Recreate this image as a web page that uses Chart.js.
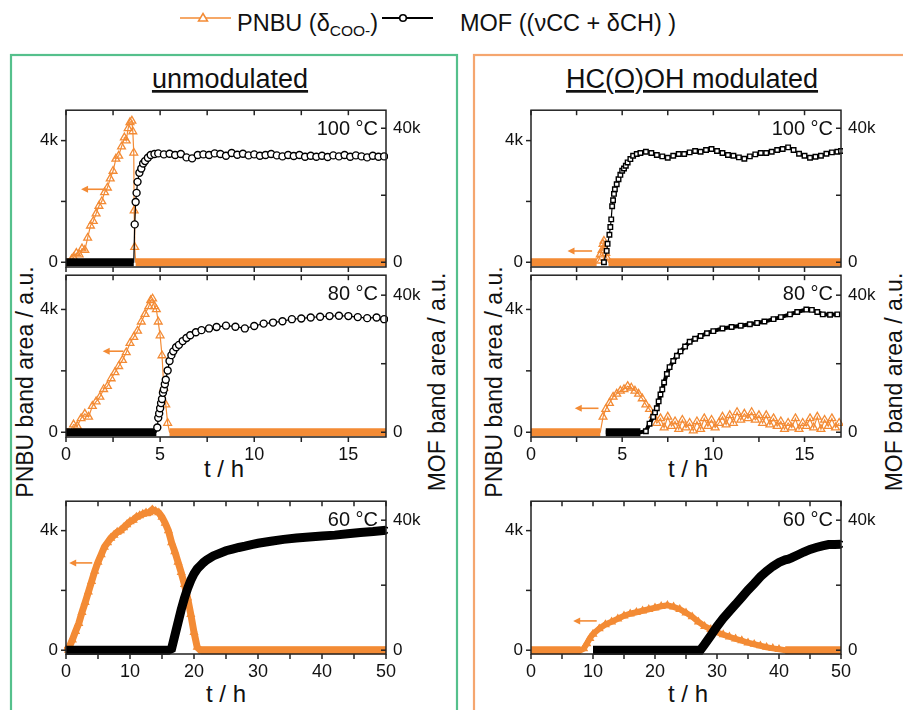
<!DOCTYPE html>
<html><head><meta charset="utf-8">
<script src="https://cdn.jsdelivr.net/npm/chart.js@4/dist/chart.umd.min.js"></script>
<style>
html,body{margin:0;padding:0;background:#fff;width:903px;height:710px;overflow:hidden;}
#page{position:relative;width:903px;height:710px;background:#fff;}
#deco{position:absolute;left:0;top:0;}
canvas{position:absolute;}
</style></head><body>
<div id="page">
<svg id="deco" width="903" height="710" xmlns="http://www.w3.org/2000/svg" font-family="Liberation Sans, Arial, sans-serif" fill="#111">
 <rect x="11" y="55" width="446" height="700" fill="none" stroke="#55c08c" stroke-width="2.2"/>
 <rect x="474" y="55" width="440" height="700" fill="none" stroke="#f5a66f" stroke-width="2.2"/>
 <line x1="180" y1="18" x2="231" y2="18" stroke="#f38b35" stroke-width="1.6"/>
 <polygon points="203,13.5 207.5,21 198.5,21" fill="#fff" stroke="#f38b35" stroke-width="1.5"/>
 <text x="237" y="31" font-size="23.5">PNBU (δ<tspan font-size="15.5" dy="5">COO-</tspan><tspan dy="-5">)</tspan></text>
 <line x1="382" y1="18" x2="433" y2="18" stroke="#000" stroke-width="1.8"/>
 <circle cx="403" cy="18" r="3.3" fill="#fff" stroke="#000" stroke-width="1.6"/>
 <text x="460" y="31" font-size="23.5">MOF ((νCC + δCH) )</text>
 <text x="230" y="88" font-size="27" text-anchor="middle" text-decoration="underline">unmodulated</text>
 <text x="692" y="88" font-size="27" text-anchor="middle" text-decoration="underline">HC(O)OH modulated</text>
 <text transform="translate(25,382) rotate(-90)" text-anchor="middle" dominant-baseline="central" font-size="23">PNBU band area / a.u.</text>
 <text transform="translate(437,382) rotate(-90)" text-anchor="middle" dominant-baseline="central" font-size="23">MOF band area / a.u.</text>
 <text transform="translate(494,382) rotate(-90)" text-anchor="middle" dominant-baseline="central" font-size="23">PNBU band area / a.u.</text>
 <text transform="translate(894,382) rotate(-90)" text-anchor="middle" dominant-baseline="central" font-size="23">MOF band area / a.u.</text>
 <text x="224" y="477" text-anchor="middle" font-size="24">t / h</text>
 <text x="226" y="702" text-anchor="middle" font-size="24">t / h</text>
 <text x="688" y="477" text-anchor="middle" font-size="24">t / h</text>
 <text x="688" y="702" text-anchor="middle" font-size="24">t / h</text>
</svg>
</div>
<script>
// ---------- tick values / labels ----------
const pnbuTicks = [0, 2000, 4000];
const pnbuTickLabels = ['0', '', '4k'];
const mofTicks = [0, 20000, 40000];
const mofTickLabels = ['0', '', '40k'];
const shortTicks = [0, 2.5, 5, 7.5, 10, 12.5, 15];
const shortTickLabels = ['0', '', '5', '', '10', '', '15'];
const longTicks = [0, 5, 10, 15, 20, 25, 30, 35, 40, 45, 50];
const longTickLabels = ['0', '', '10', '', '20', '', '30', '', '40', '', '50'];

// ---------- unmodulated, 100 °C ----------
const u100PnbuT = [0,0.1,0.2,0.3,0.4,0.55,0.7,0.85,1.0,1.15,1.3,1.45,1.6,1.75,1.9,2.05,2.2,2.35,2.5,2.65,2.8,2.95,3.1,3.2,3.3,3.4,3.5,3.55,3.6,3.62,3.65,3.7,4,5,6,7,8,9,10,11,12,13,14,15,16,17];
const u100PnbuV = [0,0,0,100,160,300,250,450,400,800,1200,1350,1600,1850,2000,2300,2450,2750,3000,3400,3500,3800,4100,4000,4400,4600,4650,4300,3600,1700,500,0,0,0,0,0,0,0,0,0,0,0,0,0,0,0];
const u100MofT = [0,1,2,3,3.6,3.65,3.7,3.75,3.8,3.9,4.0,4.1,4.2,4.35,4.5,4.7,4.9,5.2,5.5,5.8,6.1,6.4,6.7,7.0,7.3,7.6,7.9,8.2,8.5,8.8,9.1,9.4,9.7,10.0,10.3,10.6,10.9,11.2,11.5,11.8,12.1,12.4,12.7,13.0,13.3,13.6,13.9,14.2,14.5,14.8,15.1,15.4,15.7,16.0,16.3,16.6,16.9];
const u100MofV = [0,0,0,0,0,11300,18000,20700,24000,26700,28000,29500,30200,31200,32000,32300,32500,32200,32400,32000,32300,31300,31000,32000,32200,32000,32500,32300,31800,32600,32100,32400,31900,32200,31800,32000,32300,31900,31600,32000,31700,32000,31500,31800,31500,31800,31400,31900,31600,32000,31500,31900,31600,31300,31800,31500,31600];
const u100Arrow = [0.8, 2.0, 2400];

// ---------- unmodulated, 80 °C ----------
const u80PnbuT = [0,0.2,0.4,0.6,0.8,1.0,1.2,1.4,1.6,1.8,2.0,2.2,2.4,2.6,2.8,3.0,3.2,3.4,3.6,3.8,4.0,4.2,4.4,4.5,4.6,4.7,4.8,4.9,5.0,5.1,5.2,5.3,5.4,5.5,6,7,8,9,10,11,12,13,14,15,16,17];
const u80PnbuV = [0,0,250,200,450,600,500,850,1000,1150,1400,1500,1750,1950,2150,2350,2600,2900,3100,3300,3600,3850,4100,4300,4350,4100,4000,3600,3150,2500,1450,900,300,0,0,0,0,0,0,0,0,0,0,0,0,0];
const u80MofT = [0,1,2,3,4,4.8,4.85,4.9,4.95,5.0,5.05,5.1,5.15,5.2,5.25,5.3,5.4,5.5,5.6,5.7,5.85,6.0,6.2,6.4,6.6,6.9,7.2,7.6,8.0,8.5,9.0,9.5,10.0,10.5,11.0,11.5,12.0,12.5,13.0,13.5,14.0,14.5,15.0,15.5,16.0,16.5,16.9];
const u80MofV = [0,0,0,0,0,0,1400,4200,5500,7000,8500,9700,11500,12500,14000,15300,18000,20800,22500,23600,24800,25500,26600,27500,28300,29200,29800,30300,30700,31100,30800,30300,31000,31700,32000,32400,33000,33200,33500,33700,33900,34000,33900,33600,33300,33500,33000];
const u80Arrow = [1.95, 3.05, 2640];

// ---------- unmodulated, 60 °C ----------
const u60PnbuT = [0,0.5,1,1.5,2,2.5,3,3.5,4,4.5,5,5.5,6,6.5,7,7.5,8,8.5,9,9.5,10,10.5,11,11.5,12,12.5,13,13.5,14,14.5,15,15.5,16,16.5,17,17.5,18,18.5,19,19.5,20,20.5,21,23,25,27,29,31,33,35,37,39,41,43,45,47,49,50];
const u60PnbuV = [0,100,350,630,900,1270,1600,1950,2300,2650,2950,3200,3450,3600,3750,3850,3950,4000,4100,4200,4300,4350,4450,4500,4550,4600,4600,4700,4650,4600,4450,4250,4000,3600,3300,2950,2600,2200,1750,1200,600,100,0,0,0,0,0,0,0,0,0,0,0,0,0,0,0,0];
const u60MofT = [0,2,4,6,8,10,12,14,16,16.5,17,17.5,18,18.5,19,19.5,20,20.5,21,21.5,22,23,24,25,26,27,28,29,30,32,34,36,38,40,42,44,46,48,50];
const u60MofV = [0,0,0,0,0,0,0,0,0,500,4500,8500,12500,16000,19000,21500,23500,25000,26000,27000,27800,29000,29800,30600,31100,31600,32000,32500,32900,33500,34100,34500,34800,35100,35400,35800,36200,36500,36900];
const u60Arrow = [0.5, 4.1, 2920];

// ---------- HC(O)OH modulated, 100 °C ----------
const h100PnbuT = [0,1,2,3,3.6,3.7,3.8,3.9,3.95,4.0,4.05,4.1,4.15,4.25,5,6,7,8,9,10,11,12,13,14,15,16,17];
const h100PnbuV = [0,0,0,0,0,50,250,400,600,700,470,300,150,0,0,0,0,0,0,0,0,0,0,0,0,0,0];
const h100MofT = [4.0,4.15,4.2,4.3,4.35,4.4,4.45,4.5,4.55,4.6,4.7,4.8,4.9,5.0,5.1,5.2,5.3,5.45,5.6,5.8,6.0,6.3,6.6,6.9,7.2,7.5,7.8,8.1,8.4,8.7,9.0,9.3,9.6,9.9,10.2,10.5,10.8,11.1,11.4,11.7,12.0,12.3,12.6,12.9,13.2,13.5,13.8,14.1,14.4,14.7,15.0,15.3,15.6,15.9,16.2,16.5,16.8,17.0];
const h100MofV = [0,3400,5500,8200,10500,12800,16700,18500,20400,21800,23300,24800,26100,27300,28000,28800,29800,30800,31800,32300,32600,33000,32600,32000,31600,31200,31800,32300,32300,32800,33200,33000,33500,33800,33200,32600,32000,31800,31300,30900,31600,32200,32600,32600,33000,33500,33800,34300,33500,32400,31800,31200,31500,31800,32400,32800,33000,33200];
const h100Arrow = [2.0, 3.35, 370];

// ---------- HC(O)OH modulated, 80 °C ----------
const h80PnbuT = [0,1,2,3,3.8,3.95,4.1,4.3,4.5,4.7,4.9,5.1,5.3,5.5,5.7,5.9,6.1,6.3,6.5,6.7,
  6.9,7.1,7.3,7.5,7.7,7.9,8.1,8.3,8.5,8.7,8.9,9.1,9.3,9.5,9.7,9.9,10.1,10.3,10.5,10.7,
  10.9,11.1,11.3,11.5,11.7,11.9,12.1,12.3,12.5,12.7,12.9,13.1,13.3,13.5,13.7,13.9,14.1,14.3,14.5,14.7,
  14.9,15.1,15.3,15.5,15.7,15.9,16.1,16.3,16.5,16.7,16.9];
const h80PnbuV = [0,0,0,0,0,500,750,950,1150,1250,1350,1400,1500,1450,1350,1250,1100,900,750,550,
  300,450,150,500,200,350,100,400,150,300,50,350,100,450,200,400,150,300,500,250,
  550,300,650,400,600,450,650,400,550,300,550,250,450,200,350,100,300,150,450,100,
  300,200,450,150,500,100,400,200,450,150,300];
const h80MofT = [4.1,4.5,5.0,5.5,6.0,6.3,6.5,6.7,6.8,6.9,7.0,7.1,7.2,7.3,7.45,7.6,7.8,8.0,8.2,8.45,8.7,9.0,9.3,9.65,10.0,10.5,11.0,11.5,12.0,12.4,12.8,13.3,13.7,14.2,14.6,15.1,15.4,15.7,16.0,16.4,16.8];
const h80MofV = [0,0,0,0,0,300,2500,4500,5800,7000,9000,11000,12500,14500,17000,19000,20800,22300,23600,25000,26400,27300,28100,28900,29500,30300,30700,31100,31500,31900,32300,33000,33600,34400,35100,35800,35700,35100,34400,34300,34400];
const h80Arrow = [2.4, 3.7, 780];

// ---------- HC(O)OH modulated, 60 °C ----------
const h60PnbuT = [0,2,4,6,8,8.5,9,9.5,10,11,12,13,14,15,16,17,18,19,20,21,22,23,24,25,26,27,28,29,30,31,32,33,34,35,36,37,38,39,40,41,42,44,46,48,50];
const h60PnbuV = [0,0,0,0,0,50,220,400,540,720,860,950,1050,1150,1220,1270,1320,1370,1420,1470,1500,1450,1370,1250,1120,950,800,700,600,520,450,380,320,250,200,150,100,60,30,0,0,0,0,0,0];
const h60MofT = [10,12,14,16,18,20,22,24,26,27.3,28,29,30,31,32,33,34,35,36,37,38,39,40,41,41.5,42,43,44,45,46,47,48,49,50];
const h60MofV = [0,0,0,0,0,0,0,0,0,0,1800,4500,7300,9800,12000,14100,16300,18500,20500,22600,24300,25800,27000,27800,28000,28400,29300,30200,31000,31600,32100,32500,32500,32600];
const h60Arrow = [6.8, 10.6, 980];

// ---------- layout / style ----------
const ORANGE = '#f38b35';
const FONT = '"Liberation Sans", Arial, Helvetica, sans-serif';
const COLS = [{left:66,right:386},{left:531,right:841}];
const ROWS = [
  {top:102,bottom:267,yMin:-156,yMax:5000,y2Min:-1420,y2Max:45390},
  {top:267,bottom:437,yMin:-155,yMax:5116,y2Min:-1390,y2Max:45830},
  {top:493,bottom:654,yMin:-127,yMax:4984,y2Min:-1170,y2Max:45840}
];
const PANELS = [
  {col:0,row:0,temp:'100 °C',xMax:17,xT:shortTicks,xL:null,pT:u100PnbuT,pV:u100PnbuV,mT:u100MofT,mV:u100MofV,arrow:u100Arrow,pw:1.2,mw:1.2,mr:3.5,ms:'circle',pr:4.5,mfill:'#fff'},
  {col:0,row:1,temp:'80 °C',xMax:17,xT:shortTicks,xL:shortTickLabels,pT:u80PnbuT,pV:u80PnbuV,mT:u80MofT,mV:u80MofV,arrow:u80Arrow,pw:1.2,mw:1.2,mr:3.5,ms:'circle',pr:4.5,mfill:'#fff'},
  {col:0,row:2,temp:'60 °C',xMax:50,xT:longTicks,xL:longTickLabels,pT:u60PnbuT,pV:u60PnbuV,mT:u60MofT,mV:u60MofV,arrow:u60Arrow,pw:7,mw:9,mr:3,ms:'circle',pr:4,mfill:'rgba(0,0,0,0)'},
  {col:1,row:0,temp:'100 °C',xMax:17,xT:shortTicks,xL:null,pT:h100PnbuT,pV:h100PnbuV,mT:h100MofT,mV:h100MofV,arrow:h100Arrow,pw:1.2,mw:1.2,mr:3.2,ms:'rect',pr:4.5,mfill:'#fff'},
  {col:1,row:1,temp:'80 °C',xMax:17,xT:shortTicks,xL:shortTickLabels,pT:h80PnbuT,pV:h80PnbuV,mT:h80MofT,mV:h80MofV,arrow:h80Arrow,pw:1.2,mw:4,mr:3.2,ms:'rect',pr:4.5,mfill:'#fff'},
  {col:1,row:2,temp:'60 °C',xMax:50,xT:longTicks,xL:longTickLabels,pT:h60PnbuT,pV:h60PnbuV,mT:h60MofT,mV:h60MofV,arrow:h60Arrow,pw:6,mw:9,mr:3,ms:'circle',pr:4,mfill:'rgba(0,0,0,0)'}
];

const decoPlugin = {
  id: 'deco',
  afterDatasetsDraw(chart) {
    const p = chart.options.plugins.deco;
    const {ctx, chartArea: a} = chart;
    const x = chart.scales.x, y = chart.scales.y, y2 = chart.scales.y2;
    const line = (x1,y1,x2,y2_) => {ctx.beginPath();ctx.moveTo(x1,y1);ctx.lineTo(x2,y2_);ctx.stroke();};
    ctx.save();
    const [h, t, v] = p.arrow;
    const hx = x.getPixelForValue(h), tx = x.getPixelForValue(t), ay = y.getPixelForValue(v);
    ctx.strokeStyle = ORANGE; ctx.fillStyle = ORANGE; ctx.lineWidth = 1.6;
    line(tx, ay, hx + 5, ay);
    ctx.beginPath(); ctx.moveTo(hx, ay); ctx.lineTo(hx + 7, ay - 3.5); ctx.lineTo(hx + 7, ay + 3.5); ctx.closePath(); ctx.fill();
    ctx.strokeStyle = '#222'; ctx.lineWidth = 1.5;
    ctx.strokeRect(a.left, a.top, a.right - a.left, a.bottom - a.top);
    x.ticks.forEach(tk => {const px = x.getPixelForValue(tk.value); line(px, a.bottom, px, a.bottom + 5); line(px, a.top, px, a.top + 5);});
    y.ticks.forEach(tk => {const py = y.getPixelForValue(tk.value); line(a.left - 5, py, a.left, py);});
    y2.ticks.forEach(tk => {const py = y2.getPixelForValue(tk.value); line(a.right - 5, py, a.right, py);});
    ctx.fillStyle = '#111'; ctx.font = '20px ' + FONT; ctx.textAlign = 'right'; ctx.textBaseline = 'alphabetic';
    ctx.fillText(p.temp, a.right - 8, a.top + 25);
    ctx.restore();
  }
};

const page = document.getElementById('page');
const pts = (T, V) => T.map((t, k) => ({x: t, y: V[k]}));
const inZeroRun = (V, k) => V[k] === 0 && ((k > 0 && V[k-1] === 0) || (k < V.length - 1 && V[k+1] === 0));
const zeroBand = (T, V) => T.map((t, k) => ({x: t, y: inZeroRun(V, k) ? 0 : null}));
const radiusFn = (V, r) => c => inZeroRun(V, c.dataIndex) ? 0 : r;

PANELS.forEach(p => {
  const c = COLS[p.col], r = ROWS[p.row];
  const W = c.right - c.left + 120, H = r.bottom - r.top + 40;
  const cv = document.createElement('canvas');
  cv.width = W; cv.height = H;
  cv.style.left = (c.left - 60) + 'px'; cv.style.top = (r.top - 10) + 'px';
  cv.style.width = W + 'px'; cv.style.height = H + 'px';
  page.appendChild(cv);
  new Chart(cv, {
    type: 'scatter',
    data: {datasets: [
      {data: pts(p.mT, p.mV), yAxisID: 'y2', showLine: true, borderColor: '#000', borderWidth: p.mw,
       pointStyle: p.ms, pointRadius: radiusFn(p.mV, p.mr), pointBorderWidth: 1.4, pointBorderColor: '#000', pointBackgroundColor: p.mfill, order: 0, clip: 2},
      {data: zeroBand(p.mT, p.mV), yAxisID: 'y2', showLine: true, spanGaps: false, borderColor: '#000', borderWidth: 8, pointRadius: 0, order: 1, clip: 2},
      {data: pts(p.pT, p.pV), yAxisID: 'y', showLine: true, borderColor: ORANGE, borderWidth: p.pw,
       pointStyle: 'triangle', pointRadius: radiusFn(p.pV, p.pr), pointBorderWidth: 1.3, pointBorderColor: ORANGE, pointBackgroundColor: 'rgba(255,255,255,0)', order: 2, clip: 2},
      {data: zeroBand(p.pT, p.pV), yAxisID: 'y', showLine: true, spanGaps: false, borderColor: ORANGE, borderWidth: 8, pointRadius: 0, order: 3, clip: 2}
    ]},
    options: {
      responsive: false, animation: false, devicePixelRatio: 1,
      layout: {padding: {top: 10, left: 0, right: 0, bottom: 0}},
      plugins: {legend: {display: false}, tooltip: {enabled: false}, deco: {arrow: p.arrow, temp: p.temp}},
      scales: {
        x: {type: 'linear', min: 0, max: p.xMax,
            afterBuildTicks: s => { s.ticks = p.xT.map(v => ({value: v})); },
            afterFit: s => { s.height = 30; },
            grid: {display: false, drawTicks: false}, border: {display: false},
            ticks: {display: !!p.xL, autoSkip: false, maxRotation: 0, padding: 7, color: '#111',
                    font: {family: FONT, size: 18}, callback: v => p.xL ? p.xL[p.xT.indexOf(v)] : ''}},
        y: {type: 'linear', position: 'left', min: r.yMin, max: r.yMax,
            afterBuildTicks: s => { s.ticks = pnbuTicks.map(v => ({value: v})); },
            afterFit: s => { s.width = 60; },
            grid: {display: false, drawTicks: false}, border: {display: false},
            ticks: {padding: 8, color: '#111', font: {family: FONT, size: 17}, callback: v => pnbuTickLabels[pnbuTicks.indexOf(v)]}},
        y2: {type: 'linear', position: 'right', min: r.y2Min, max: r.y2Max,
            afterBuildTicks: s => { s.ticks = mofTicks.map(v => ({value: v})); },
            afterFit: s => { s.width = 60; },
            grid: {display: false, drawTicks: false}, border: {display: false},
            ticks: {padding: 7, color: '#111', font: {family: FONT, size: 17}, callback: v => mofTickLabels[mofTicks.indexOf(v)]}}
      }
    },
    plugins: [decoPlugin]
  });
});
</script>
</body></html>
